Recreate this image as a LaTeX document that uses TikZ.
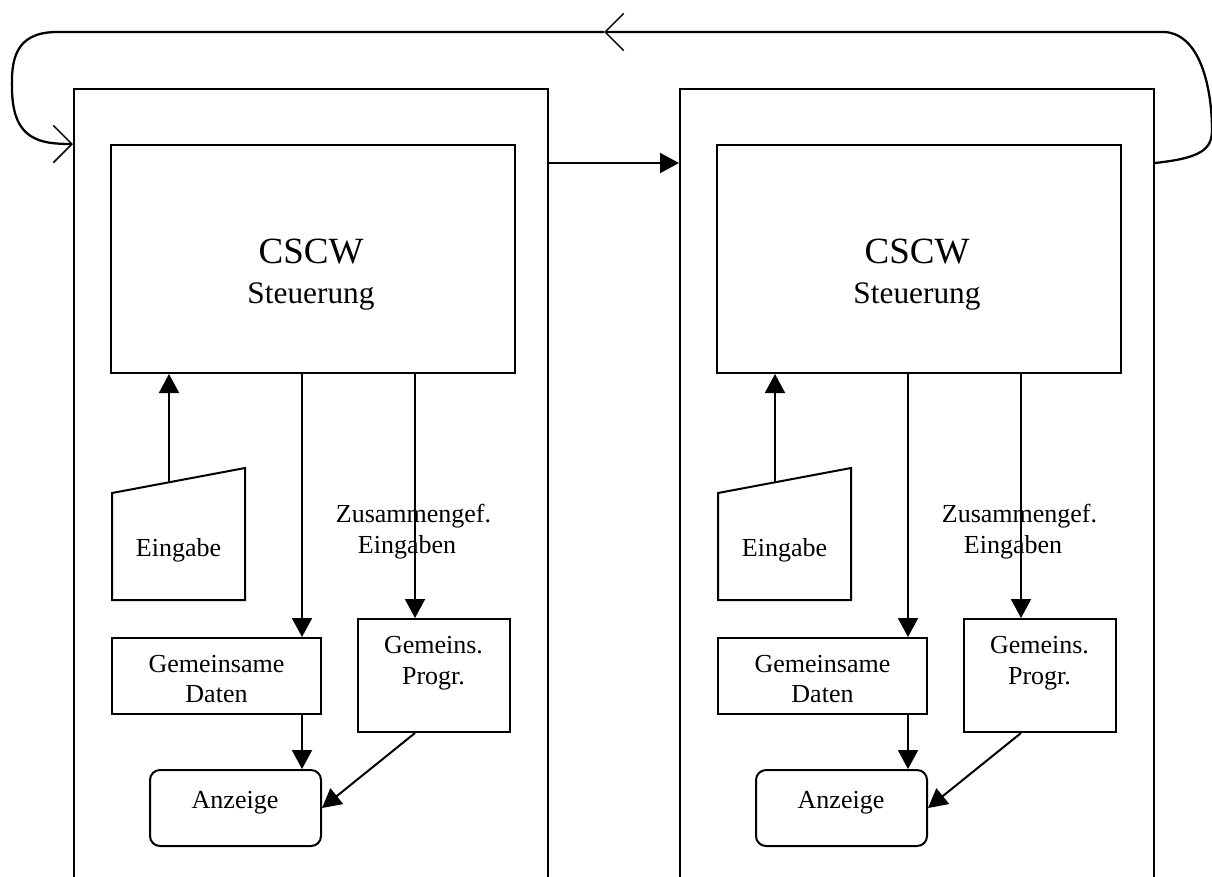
\documentclass[tikz,border=0pt]{standalone}
\usepackage{fontspec}
\setmainfont{Liberation Serif}
\usetikzlibrary{arrows.meta,calc}
\tikzset{
  boxline/.style={draw, line width=1.5pt, rectangle, inner sep=0pt},
  arr/.style={line width=1.5pt, -{Triangle[length=14.25pt,width=15pt]}},
  loopline/.style={line width=1.7pt},
  barb/.style={-{Straight Barb[length=14pt,width=28pt,line width=1.1pt]}},
  small/.style={font=\fontsize{19.5}{23}\selectfont, inner sep=0pt},
  big/.style={font=\fontsize{27.75}{32}\selectfont, inner sep=0pt},
  mid/.style={font=\fontsize{23.5}{28}\selectfont, inner sep=0pt},
}
\begin{document}
\begin{tikzpicture}[x=0.75pt, y=-0.75pt]
\useasboundingbox (0,0) rectangle (1212,876);
\foreach \o/\s in {0/l, 606/r}{
  \begin{scope}[shift={(\o,0)}]
    \begin{scope}
      \clip (0,0) rectangle (700,876);
      \node[boxline, minimum width=355.5pt, minimum height=683.25pt] (outer\s) at (311,544.5) {};
    \end{scope}
    \node[boxline, minimum width=303pt, minimum height=171pt] (cscw\s) at (313,259) {};
    \node[big, anchor=base] (cscwt\s) at (311,263) {CSCW};
    \node[mid, anchor=base] (steu\s) at (311,303) {Steuerung};
    % Eingabe (manual input shape)
    \draw[line width=1.5pt, line join=miter] (112,493) -- (245,468) -- (245,600) -- (112,600) -- cycle;
    \node[small, anchor=base] (ein\s) at (178.5,556) {Eingabe};
    \coordinate (eT\s) at (169,483);
    % Gemeinsame Daten
    \node[boxline, minimum width=156.75pt, minimum height=57pt] (daten\s) at (216.5,676) {};
    \node[small, anchor=base] (datt1\s) at (216.5,672) {Gemeinsame};
    \node[small, anchor=base] (datt2\s) at (216.5,702) {Daten};
    % Gemeins. Progr.
    \node[boxline, minimum width=114pt, minimum height=84.75pt] (progr\s) at (434,675.5) {};
    \node[small, anchor=base] (prt1\s) at (433.5,653) {Gemeins.};
    \node[small, anchor=base] (prt2\s) at (433.5,684) {Progr.};
    % Anzeige
    \node[boxline, rounded corners=7.5pt, minimum width=128.25pt, minimum height=57pt] (anz\s) at (235.5,808) {};
    \node[small, anchor=base] (anzt\s) at (235,808) {Anzeige};
    % label
    \node[small, anchor=base] (zus1\s) at (413.5,522) {Zusammengef.};
    \node[small, anchor=base] (zus2\s) at (407,553) {Eingaben};
    % connectors
    \path (daten\s.north east) ++(-20,0) coordinate (dIn\s);
    \path (progr\s.north) ++(-19,0) coordinate (pIn\s);
    \draw[arr] (eT\s) -- (cscw\s.south -| eT\s);
    \draw[arr] (cscw\s.south -| dIn\s) -- (dIn\s);
    \draw[arr] (cscw\s.south -| pIn\s) -- (pIn\s);
    \draw[arr] (daten\s.south -| dIn\s) -- (anz\s.north -| dIn\s);
    \draw[arr] (progr\s.south -| pIn\s) -- (anz\s.east);
  \end{scope}
}
% connection between the two sides
\draw[arr] ($(outerl.north east)+(0,75)$) -- ($(outerr.north west)+(0,75)$);
% feedback loop
\coordinate (rOut) at ($(outerr.north east)+(0,75)$);
\coordinate (lIn) at ($(outerl.north west)+(0,56)$);
\coordinate (topmid) at (604,32);
\draw[loopline, barb] (rOut) .. controls (1200,158) and (1212,150) .. (1212,130)
   .. controls (1212,95) and (1203,35) .. (1165,32) -- (topmid);
\draw[loopline, barb] (topmid) -- (55,32) .. controls (15,33) and (11,60) .. (12,90)
   .. controls (13,140) and (40,144) .. (lIn);
\end{tikzpicture}
\end{document}
